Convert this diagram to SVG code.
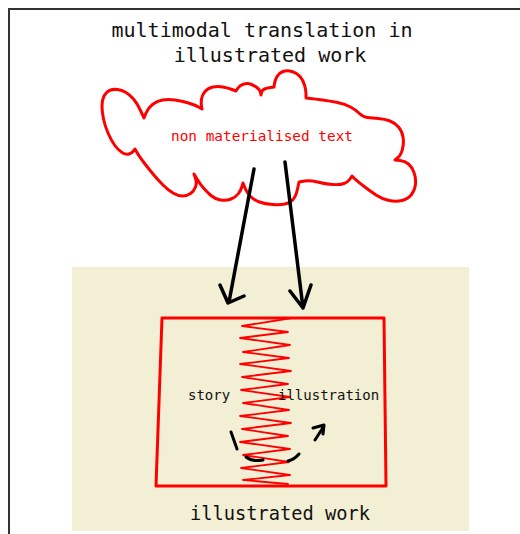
<svg xmlns="http://www.w3.org/2000/svg" width="520" height="534" viewBox="0 0 520 534">
<style>
.t{font-family:"DejaVu Sans Mono","Liberation Mono",monospace;fill:#111}
.red{fill:none;stroke:#f00;stroke-linejoin:round;stroke-linecap:round}
.ink{fill:none;stroke:#000;stroke-linejoin:round;stroke-linecap:round}
</style>
<rect width="520" height="534" fill="#fff"/>
<rect x="9" y="9" width="530" height="540" fill="none" stroke="#333" stroke-width="2"/>
<g id="title">
<text class="t" x="262" y="37" font-size="20" text-anchor="middle">multimodal translation in</text>
<text class="t" x="270" y="62" font-size="20" text-anchor="middle">illustrated work</text>
</g>
<g id="cloud">
<path class="red" stroke-width="3" d="M140.5,110.5 Q137,103 133.5,99 Q130,95 126,92.5 Q122,90 117.5,89.5 Q113,89 109.5,90.5 Q106,92 104,96 Q102,100 102,106 Q102,112 103.5,119 Q105,126 108,133 Q111,140 114.5,145 Q118,150 122,152.5 Q126,155 129,154 Q132,153 133.5,151 L135,149 L137,152.5 Q139,156 143.5,162 Q148,168 153,174 Q158,180 163,185 Q168,190 173,193 Q178,196 182.5,196 Q187,196 190.5,193.5 Q194,191 195.5,187 Q197,183 195.5,178.5 L194,174 L197,179 Q200,184 203.5,188 Q207,192 211,195.5 Q215,199 220.5,200 Q226,201 231,199 Q236,197 238.5,193.5 Q241,190 242,186.5 L243,183 L245,188 Q247,193 250.5,196.5 Q254,200 259.5,202 Q265,204 272.5,204.5 Q280,205 285,204 Q290,203 293,199.5 Q296,196 297.5,189 L299,182 L304.5,181 Q310,180 317.5,182 Q325,184 332.5,184.5 Q340,185 344,183.5 Q348,182 350,179 L352,176 L354.5,178.5 Q357,181 363.5,186 Q370,191 376,195 Q382,199 389,200.5 Q396,202 402,200.5 Q408,199 411.5,194.5 Q415,190 415.5,184 Q416,178 414,172.5 Q412,167 408.5,164 Q405,161 400,160.5 L395,160 L398,157.5 Q401,155 402.5,149 Q404,143 403,137 Q402,131 398.5,127 Q395,123 390,121 Q385,119 378.5,118.5 Q372,118 367.5,117.5 Q363,117 359.5,113.5 Q356,110 350.5,107 Q345,104 337.5,102.5 Q330,101 322.5,100 Q315,99 310.5,98.5 L306,98 L306,94 Q306,90 304.5,85 Q303,80 300,76.5 Q297,73 292,71.5 Q287,70 283,71.5 Q279,73 277,76.5 Q275,80 274.5,83.5 L274,87 L270.5,87.5 Q267,88 264.5,89 Q262,90 261.5,92.5 L261,95 L260.5,92.5 Q260,90 257.5,88 Q255,86 251.5,84.5 Q248,83 244,84 Q240,85 238,88 L236,91 L232,89.5 Q228,88 223,87 Q218,86 213,87 Q208,88 205,91.5 Q202,95 201.5,99 Q201,103 201.5,106 L202,109 L198.5,107 Q195,105 188.5,103 Q182,101 175,100 Q168,99 162.5,100 Q157,101 152.5,104.5 Q148,108 146,113 L144,118 Z"/>
<text x="262" y="141" font-size="14.4" text-anchor="middle" font-family="DejaVu Sans Mono, Liberation Mono, monospace" fill="#f00">non materialised text</text>
</g>
<g id="work">
<rect x="72" y="267" width="397" height="264" fill="#f3efd4"/>
<path class="red" stroke-width="3" d="M162,318 L384,318 L386,486 L156,486 Z"/>
<polyline class="red" stroke-width="1.8" points="292,318 242,326 288,332 240,338 290,345 243,352 289,358 240,364 291,371 242,377 288,384 241,390 290,397 243,403 289,410 240,416 291,423 242,429 288,436 240,442 290,449 243,455 289,462 241,468 290,475 243,480 288,484"/>
<text class="t" x="188" y="400" font-size="14">story</text>
<text class="t" x="278" y="400" font-size="14">illustration</text>
<text class="t" x="280" y="520" font-size="18.7" text-anchor="middle">illustrated work</text>
</g>
<g id="connectors">
<path class="ink" stroke-width="3.5" d="M254,169 L229,302 M220,285 L228,303 L244,296"/>
<path class="ink" stroke-width="3.5" d="M285,162 L303,308 M290,291 L303,308 L311,285"/>
<path class="ink" stroke-width="3" d="M231,432 L237,449 M246,457 Q252,462 263,460 M288,461 Q295,459 299,454 M315,440 L324,426 M313,428 L324,425 L323,434"/>
</g>
</svg>
